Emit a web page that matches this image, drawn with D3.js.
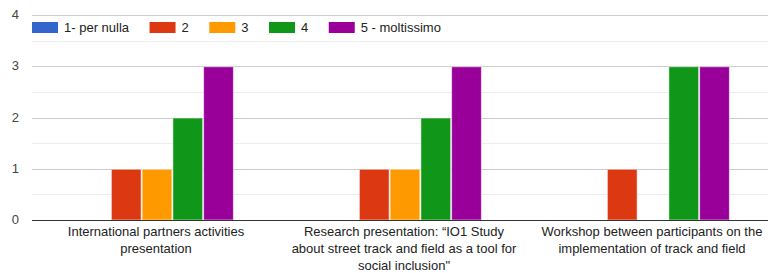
<!DOCTYPE html>
<html>
<head>
<meta charset="utf-8">
<script src="https://cdn.jsdelivr.net/npm/d3@7"></script>
<style>
  body { margin: 0; background: #fff; }
  svg { display: block; font-family: "Liberation Sans", Arial, sans-serif; }
</style>
</head>
<body>
<div id="chart"></div>
<script>
// data
var categories = [
    "International partners activities presentation",
    "Research presentation: \u201cIO1 Study about street track and field as a tool for social inclusion\"",
    "Workshop between participants on the implementation of track and field"
];
var seriesNames = ["1- per nulla", "2", "3", "4", "5 - moltissimo"];
var seriesColors = ["#3366cc", "#dc3912", "#ff9900", "#109618", "#990099"];
var values1 = [0, 0, 0];
var values2 = [1, 1, 1];
var values3 = [1, 1, 0];
var values4 = [2, 2, 3];
var values5 = [3, 3, 3];
var yTicks = [0, 1, 2, 3, 4];

var seriesValues = [values1, values2, values3, values4, values5];

var width = 768;
var height = 273;

var margin = { top: 15, left: 32, bottom: 53 };
var plotRight = 776;
var y0 = height - margin.bottom;

var svg = d3.select('#chart')
    .append('svg')
    .attr('width', width)
    .attr('height', height);

var x_scale = d3.scaleBand()
    .domain(categories)
    .range([margin.left, plotRight]);

var groupWidth = x_scale.bandwidth() * 0.62;

var x_inner = d3.scaleBand()
    .domain(seriesNames)
    .range([0, groupWidth]);

var y_scale = d3.scaleLinear()
    .domain([0, 4])
    .range([y0, margin.top]);

// minor gridlines (half steps)
svg.append('g')
    .selectAll('line')
    .data(d3.range(0.5, 4, 1))
    .enter()
    .append('line')
    .attr('x1', margin.left)
    .attr('x2', width)
    .attr('y1', function(d) { return Math.round(y_scale(d)) + 0.5; })
    .attr('y2', function(d) { return Math.round(y_scale(d)) + 0.5; })
    .attr('stroke', '#ececec');

// major gridlines
svg.append('g')
    .selectAll('line')
    .data(yTicks.slice(1))
    .enter()
    .append('line')
    .attr('x1', margin.left)
    .attr('x2', width)
    .attr('y1', function(d) { return Math.round(y_scale(d)) + 0.5; })
    .attr('y2', function(d) { return Math.round(y_scale(d)) + 0.5; })
    .attr('stroke', '#cccccc');

// y tick labels
svg.append('g')
    .selectAll('text')
    .data(yTicks)
    .enter()
    .append('text')
    .attr('x', 19)
    .attr('y', function(d) { return y_scale(d) + 4; })
    .attr('text-anchor', 'end')
    .attr('font-size', 13)
    .attr('fill', '#444')
    .text(function(d) { return d; });

// bars
var groups = svg.append('g')
    .selectAll('g')
    .data(categories)
    .enter()
    .append('g')
    .attr('transform', function(d) {
        return 'translate(' + (x_scale(d) + (x_scale.bandwidth() - groupWidth) / 2 + 1) + ',0)';
    });

groups.selectAll('rect')
    .data(function(d, i) {
        return seriesNames.map(function(s, j) {
            return { name: s, value: seriesValues[j][i], color: seriesColors[j] };
        });
    })
    .enter()
    .filter(function(d) { return d.value > 0; })
    .append('rect')
    .attr('x', function(d) { return x_inner(d.name) + 0.5; })
    .attr('y', function(d) { return y_scale(d.value) + 0.5; })
    .attr('width', x_inner.bandwidth() - 1)
    .attr('height', function(d) { return y0 - y_scale(d.value) - 0.5; })
    .attr('fill', function(d) { return d.color; })
    .attr('stroke', '#ffffff')
    .attr('stroke-opacity', 0.55)
    .attr('stroke-width', 1);

// baseline
svg.append('line')
    .attr('x1', margin.left)
    .attr('x2', width)
    .attr('y1', y0 + 0.5)
    .attr('y2', y0 + 0.5)
    .attr('stroke', '#333');

// x labels, wrapped
function wrap(text, maxWidth) {
    text.each(function() {
        var t = d3.select(this);
        var words = t.text().split(/\s+/);
        var cx = t.attr('x');
        var lines = [];
        var line = [];
        t.text(null);
        var tspan = t.append('tspan');
        words.forEach(function(w) {
            line.push(w);
            tspan.text(line.join(' '));
            if (tspan.node().getComputedTextLength() > maxWidth && line.length > 1) {
                line.pop();
                lines.push(line.join(' '));
                line = [w];
            }
            tspan.text(line.join(' '));
        });
        lines.push(line.join(' '));
        tspan.remove();
        lines.forEach(function(l, i) {
            t.append('tspan')
                .attr('x', cx)
                .attr('dy', i === 0 ? 0 : 17)
                .text(l);
        });
    });
}

svg.append('g')
    .selectAll('text')
    .data(categories)
    .enter()
    .append('text')
    .attr('x', function(d) { return x_scale(d) + x_scale.bandwidth() / 2; })
    .attr('y', y0 + 16)
    .attr('text-anchor', 'middle')
    .attr('font-size', 13)
    .attr('fill', '#222')
    .text(function(d) { return d; })
    .call(wrap, 232);

// legend
var legend = svg.append('g');
var lx = 32;
seriesNames.forEach(function(s, i) {
    legend.append('rect')
        .attr('x', lx)
        .attr('y', 22)
        .attr('width', 26)
        .attr('height', 11)
        .attr('fill', seriesColors[i]);
    var label = legend.append('text')
        .attr('x', lx + 32)
        .attr('y', 32)
        .attr('font-size', 13)
        .attr('fill', '#222')
        .text(s);
    lx = lx + 32 + label.node().getComputedTextLength() + 20.5;
});
</script>
</body>
</html>
